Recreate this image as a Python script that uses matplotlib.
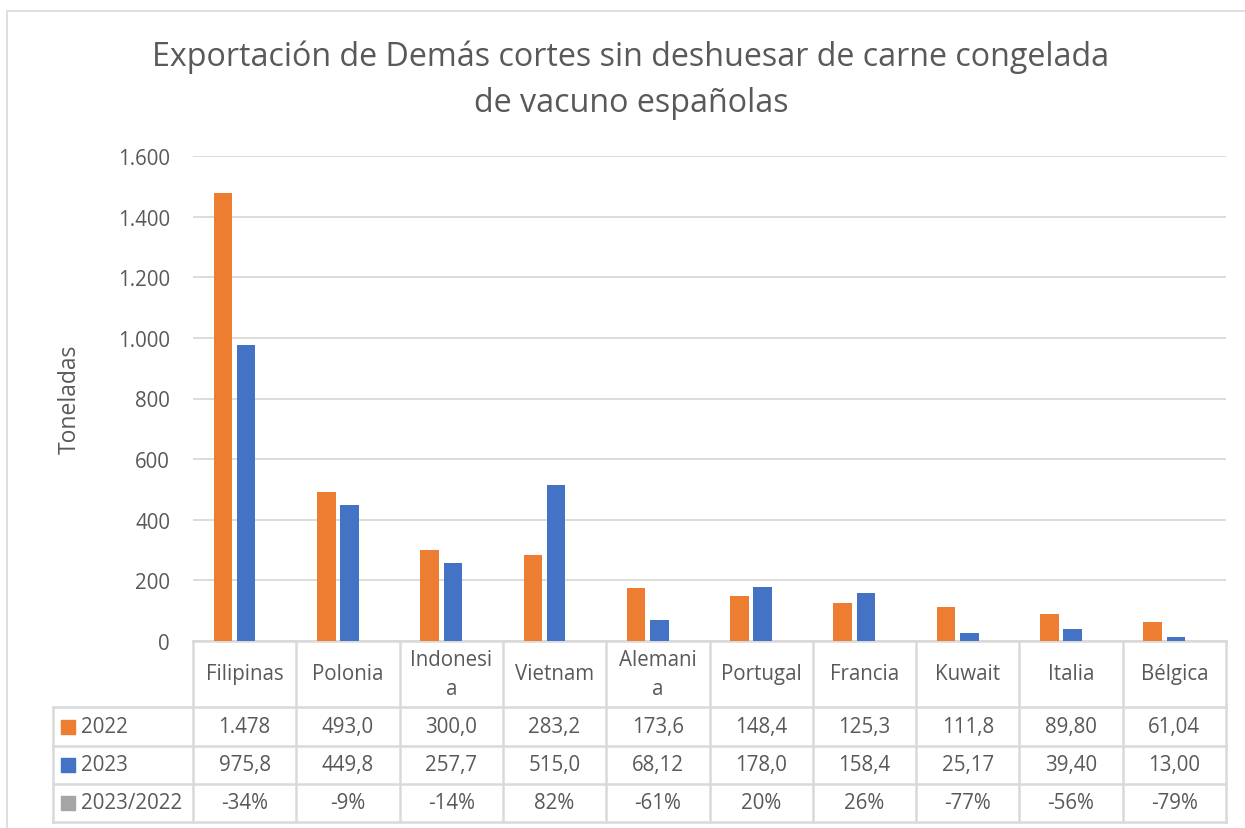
import matplotlib
matplotlib.use('Agg')
import matplotlib.pyplot as plt
import matplotlib.transforms as mtransforms
from matplotlib.patches import Rectangle
from matplotlib.ticker import FuncFormatter

plt.rcParams['font.family'] = ['Open Sans', 'DejaVu Sans']

# datos
paises = ['Filipinas', 'Polonia', 'Indonesi\na', 'Vietnam', 'Alemani\na',
          'Portugal', 'Francia', 'Kuwait', 'Italia', 'Bélgica']
t2022 = [1478, 493.0, 300.0, 283.2, 173.6, 148.4, 125.3, 111.8, 89.80, 61.04]
t2023 = [975.8, 449.8, 257.7, 515.0, 68.12, 178.0, 158.4, 25.17, 39.40, 13.00]
var = [-0.34, -0.09, -0.14, 0.82, -0.61, 0.20, 0.26, -0.77, -0.56, -0.79]
series = ['2022', '2023', '2023/2022']
colores = ['#ED7D31', '#4472C4', '#A5A5A5']

TXT = '#595959'
GRID = '#D9D9D9'
W, H = 1245, 829
FS = 14.8


def fmt_num(v):
    # formato tipo Excel: 4 cifras significativas, separadores españoles
    if v >= 1000:
        return f'{v:,.0f}'.replace(',', '.')
    dec = 4 - len(str(int(v)))
    return f'{v:.{dec}f}'.replace('.', ',')


fig = plt.figure(figsize=(W / 100, H / 100), dpi=100)
ax = fig.add_axes([193 / W, 1 - 642 / H, (1226 - 193) / W, (642 - 157) / H])

x = list(range(len(paises)))
ancho = 0.18
paso = 0.225
c0 = 0.015
for k, (vals, col) in enumerate(zip([t2022, t2023, var], colores)):
    ax.bar([i + c0 + (k - 1) * paso for i in x], vals, width=ancho, color=col, zorder=3)

ax.set_xlim(-0.5, 9.5)
ax.set_ylim(0, 1600)
ax.set_yticks(range(0, 1601, 200))
ax.yaxis.set_major_formatter(FuncFormatter(lambda v, p: f'{v:,.0f}'.replace(',', '.')))
ax.set_xticks([])
ax.tick_params(axis='y', length=0, pad=16.5, labelsize=FS, labelcolor=TXT)
ax.grid(axis='y', color=GRID, lw=1.3, zorder=0)
for s in ['top', 'right', 'left']:
    ax.spines[s].set_visible(False)
ax.spines['bottom'].set_color(GRID)
ax.spines['bottom'].set_linewidth(1.8)

ax.set_ylabel('Toneladas', fontsize=16.5, color=TXT, labelpad=26)

# tabla de datos
tr = mtransforms.blended_transform_factory(ax.transData, ax.transAxes)
px_x = 103.3  # pixeles por categoria
axh = 485.0


def fy(py):
    return -(py - 642) / axh


x_leg = -0.5 - (193 - 53) / px_x
filas = [642, 708, 747, 785, 823]
lkw = dict(color=GRID, lw=1.8, transform=tr, clip_on=False)
# lineas horizontales
for py in filas[1:]:
    ax.plot([x_leg, 9.5], [fy(py), fy(py)], **lkw)
# lineas verticales
for b in range(11):
    ax.plot([b - 0.5, b - 0.5], [fy(642), fy(823)], **lkw)
ax.plot([x_leg, x_leg], [fy(708), fy(823)], **lkw)

tkw = dict(transform=tr, ha='center', va='center', fontsize=FS, color=TXT, clip_on=False)
for i, p in enumerate(paises):
    ax.text(i, fy(675), p, linespacing=1.5, **tkw)

centros = [(filas[r] + filas[r + 1]) / 2 for r in range(1, 4)]
for r, vals in enumerate([t2022, t2023]):
    for i, v in enumerate(vals):
        ax.text(i, fy(centros[r]), fmt_num(v), **tkw)
for i, v in enumerate(var):
    ax.text(i, fy(centros[2]), f'{v * 100:.0f}%', **tkw)

x_key = -0.5 - (193 - 68) / px_x
x_lab = -0.5 - (193 - 81) / px_x
for r, (nom, col) in enumerate(zip(series, colores)):
    ax.scatter([x_key], [fy(centros[r])], marker='s', s=105, color=col,
               transform=tr, clip_on=False, zorder=4)
    ax.text(x_lab, fy(centros[r]), nom, transform=tr, ha='left', va='center',
            fontsize=FS, color=TXT, clip_on=False)

# titulo
fig.text(631 / W, 1 - 80 / H,
         'Exportación de Demás cortes sin deshuesar de carne congelada\nde vacuno españolas',
         ha='center', va='center', fontsize=23.2, color=TXT, linespacing=1.5)

# borde del grafico
fig.add_artist(Rectangle((7 / W, -0.01), 1.0, 1 - 12 / H + 0.01, transform=fig.transFigure,
                         fill=False, ec=GRID, lw=1.2))

fig.savefig('out.png', dpi=100)
